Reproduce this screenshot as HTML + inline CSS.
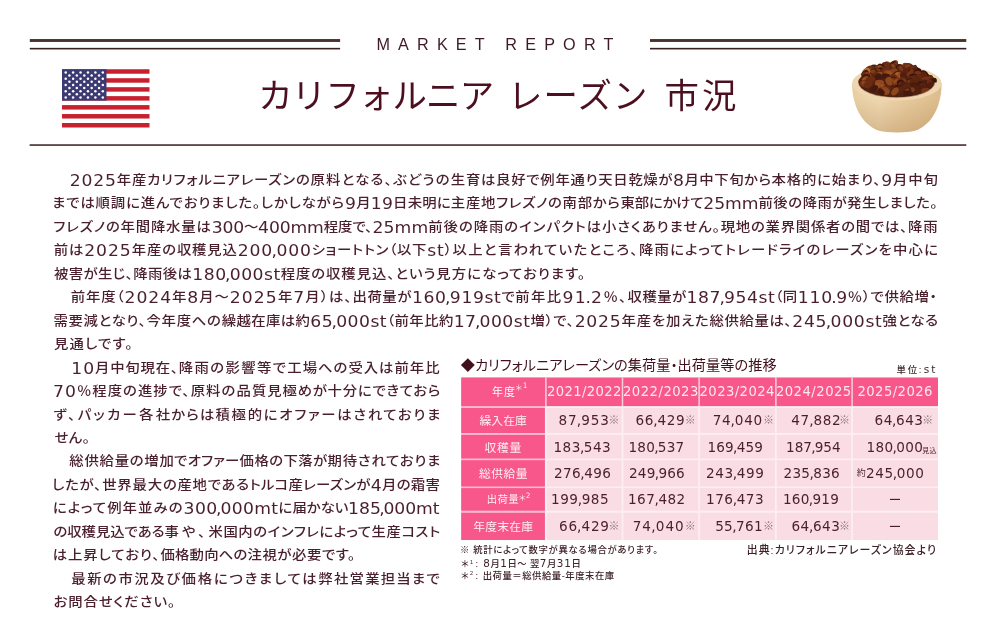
<!DOCTYPE html>
<html lang="ja">
<head>
<meta charset="utf-8">
<title>MARKET REPORT カリフォルニア レーズン 市況</title>
<style>
html,body{margin:0;padding:0;background:#fff}
body{width:1000px;height:631px;position:relative;overflow:hidden;font-family:"Liberation Sans","Noto Sans CJK JP",sans-serif;color:#4a1f2c}
.t{position:absolute;white-space:nowrap;line-height:20px;height:20px;margin:0;letter-spacing:var(--ls)}
.bt{font-weight:500;font-size:14.4px;font-feature-settings:"palt";transform:scaleY(0.9);transform-origin:0 50%}
.bt .n{font-weight:400;font-family:"DejaVu Sans","Liberation Sans","Noto Sans CJK JP",sans-serif;font-size:17.2px;letter-spacing:calc(var(--ls) + 0.1px);line-height:1px;position:relative;top:2.5px}
.bt .c{margin-left:-1.6px;letter-spacing:calc(var(--ls) - 1.2px)}
.mr{font-size:16.2px;color:#3f1a24}
.ti{font-size:34.4px;font-weight:400;color:#4b0f20;line-height:40px;height:40px}
.tt{font-size:14.2px;font-feature-settings:"palt";color:#41101c}
.un{font-size:9.4px;font-weight:500;color:#3d2a2c}
.un .n{font-weight:400;font-family:"DejaVu Sans","Liberation Sans","Noto Sans CJK JP",sans-serif;font-size:10.6px;letter-spacing:calc(var(--ls) + 0.2px);margin-left:0.5px;line-height:1px}
.th{font-size:11.8px;color:rgba(255,255,255,0.9)}
.thc{font-size:11.8px;color:#fff;transform:scaleX(0.93);transform-origin:0 50%}
.ths{font-size:8.6px;color:rgba(255,255,255,0.85)}
.ths2{font-family:"DejaVu Sans","Liberation Sans","Noto Sans CJK JP",sans-serif;font-size:7.4px;color:rgba(255,255,255,0.9)}
.thd{font-size:10.4px;color:rgba(255,255,255,0.92)}
.thn{font-family:"DejaVu Sans","Liberation Sans","Noto Sans CJK JP",sans-serif;font-size:13.2px;color:rgba(255,255,255,0.86)}
.td{font-family:"DejaVu Sans","Liberation Sans","Noto Sans CJK JP",sans-serif;font-size:13.6px;color:#4a1f2c}
.td .c{margin-left:-0.8px;letter-spacing:calc(var(--ls) - 0.8px)}
.dash{font-size:14px;font-weight:500;color:#4a1f2c}
.km{font-size:11px;color:#8b777d}
.mk{font-size:7px;color:#4a1f2c}
.yk{font-size:9px;color:#4a1f2c}
.nt{font-size:9.4px;font-weight:500;font-feature-settings:"palt";color:#3d2228}
.nt .n{font-weight:400;font-family:"DejaVu Sans","Liberation Sans","Noto Sans CJK JP",sans-serif;font-size:10.4px;letter-spacing:calc(var(--ls) + 0.3px);line-height:1px}
.nt .s2{font-size:5.5px;position:relative;top:-3.5px;margin-left:1.2px;margin-right:2.6px}
.sr{font-size:10.9px;font-weight:500;font-feature-settings:"palt";color:#3d2228}
.sg{letter-spacing:var(--ls)}
.abs{position:absolute;display:block}
</style>
</head>
<body>
<svg class="abs" style="left:0;top:30px" width="1000" height="120" viewBox="0 30 1000 120" aria-hidden="true">
<g fill="#4b3129">
<rect x="29.8" y="39.05" width="310.3" height="2.9"/>
<rect x="650" y="39.05" width="316.3" height="2.9"/>
</g>
<g fill="#35201f">
<rect x="29.8" y="47.85" width="310.3" height="1.6"/>
<rect x="650" y="47.85" width="316.3" height="1.6"/>
<rect x="29.6" y="144.3" width="936.7" height="1.5"/>
</g>
</svg>
<svg class="abs" style="left:61.5px;top:69px" width="88" height="59" viewBox="0 0 88 59" role="img" aria-label="US flag">
<rect x="0" y="0.25" width="87.5" height="58.25" fill="#fff"/>
<g fill="#c9202f">
<rect x="0" y="0.25" width="87.5" height="4.48"/>
<rect x="0" y="9.21" width="87.5" height="4.48"/>
<rect x="0" y="18.17" width="87.5" height="4.48"/>
<rect x="0" y="27.13" width="87.5" height="4.48"/>
<rect x="0" y="36.09" width="87.5" height="4.48"/>
<rect x="0" y="45.05" width="87.5" height="4.48"/>
<rect x="0" y="54.02" width="87.5" height="4.48"/>
</g>
<rect x="0" y="0.25" width="44.5" height="31.36" fill="#3b3a73"/>
<g fill="#fff"><circle cx="3.71" cy="3.39" r="1.25"/><circle cx="11.12" cy="3.39" r="1.25"/><circle cx="18.54" cy="3.39" r="1.25"/><circle cx="25.96" cy="3.39" r="1.25"/><circle cx="33.38" cy="3.39" r="1.25"/><circle cx="40.79" cy="3.39" r="1.25"/><circle cx="7.42" cy="6.52" r="1.25"/><circle cx="14.83" cy="6.52" r="1.25"/><circle cx="22.25" cy="6.52" r="1.25"/><circle cx="29.67" cy="6.52" r="1.25"/><circle cx="37.08" cy="6.52" r="1.25"/><circle cx="3.71" cy="9.66" r="1.25"/><circle cx="11.12" cy="9.66" r="1.25"/><circle cx="18.54" cy="9.66" r="1.25"/><circle cx="25.96" cy="9.66" r="1.25"/><circle cx="33.38" cy="9.66" r="1.25"/><circle cx="40.79" cy="9.66" r="1.25"/><circle cx="7.42" cy="12.79" r="1.25"/><circle cx="14.83" cy="12.79" r="1.25"/><circle cx="22.25" cy="12.79" r="1.25"/><circle cx="29.67" cy="12.79" r="1.25"/><circle cx="37.08" cy="12.79" r="1.25"/><circle cx="3.71" cy="15.93" r="1.25"/><circle cx="11.12" cy="15.93" r="1.25"/><circle cx="18.54" cy="15.93" r="1.25"/><circle cx="25.96" cy="15.93" r="1.25"/><circle cx="33.38" cy="15.93" r="1.25"/><circle cx="40.79" cy="15.93" r="1.25"/><circle cx="7.42" cy="19.07" r="1.25"/><circle cx="14.83" cy="19.07" r="1.25"/><circle cx="22.25" cy="19.07" r="1.25"/><circle cx="29.67" cy="19.07" r="1.25"/><circle cx="37.08" cy="19.07" r="1.25"/><circle cx="3.71" cy="22.20" r="1.25"/><circle cx="11.12" cy="22.20" r="1.25"/><circle cx="18.54" cy="22.20" r="1.25"/><circle cx="25.96" cy="22.20" r="1.25"/><circle cx="33.38" cy="22.20" r="1.25"/><circle cx="40.79" cy="22.20" r="1.25"/><circle cx="7.42" cy="25.34" r="1.25"/><circle cx="14.83" cy="25.34" r="1.25"/><circle cx="22.25" cy="25.34" r="1.25"/><circle cx="29.67" cy="25.34" r="1.25"/><circle cx="37.08" cy="25.34" r="1.25"/><circle cx="3.71" cy="28.47" r="1.25"/><circle cx="11.12" cy="28.47" r="1.25"/><circle cx="18.54" cy="28.47" r="1.25"/><circle cx="25.96" cy="28.47" r="1.25"/><circle cx="33.38" cy="28.47" r="1.25"/><circle cx="40.79" cy="28.47" r="1.25"/></g>
</svg>
<svg class="abs" style="left:846px;top:54px" width="104" height="86" viewBox="846 54 104 86" role="img" aria-label="raisins in wooden bowl">
<defs>
<linearGradient id="bw" x1="0" y1="0" x2="1" y2="0">
<stop offset="0" stop-color="#e7cda3"/><stop offset="0.3" stop-color="#efd8b1"/><stop offset="0.65" stop-color="#e7c99b"/><stop offset="1" stop-color="#dcbc8c"/>
</linearGradient>
<linearGradient id="bw2" x1="0" y1="0" x2="0" y2="1">
<stop offset="0.3" stop-color="#9a6a36" stop-opacity="0"/><stop offset="1" stop-color="#9a6a36" stop-opacity="0.28"/>
</linearGradient>
<clipPath id="inner"><path d="M846 54 H950 V82.5 H934.8 A38.3 15.2 0 0 1 858.2 82.5 H846 Z"/></clipPath>
</defs>
<path d="M852.1 83 C851.9 104 861 124.5 879 130.8 C888 133 906 133 915 130.8 C933 124.5 941.8 104 941.6 83 Z" fill="url(#bw)"/>
<path d="M852.1 83 C851.9 104 861 124.5 879 130.8 C888 133 906 133 915 130.8 C933 124.5 941.8 104 941.6 83 Z" fill="url(#bw2)"/>
<ellipse cx="896.85" cy="83.3" rx="44.75" ry="17.2" fill="#eed7b0"/>
<ellipse cx="896.5" cy="82.5" rx="38.3" ry="15.2" fill="#4f2110"/>
<g clip-path="url(#inner)"><ellipse cx="894.0" cy="64.5" rx="5.2" ry="3.2" fill="#9a4f1f" transform="rotate(-51 894.0 64.5)"/><ellipse cx="887.8" cy="64.6" rx="4.0" ry="3.1" fill="#9a4f1f" transform="rotate(18 887.8 64.6)"/><ellipse cx="887.1" cy="63.9" rx="2.2" ry="1.5" fill="#b86a2b" opacity="0.5" transform="rotate(18 887.8 64.6)"/><ellipse cx="893.6" cy="64.6" rx="3.9" ry="3.5" fill="#45190d" transform="rotate(-28 893.6 64.6)"/><ellipse cx="885.5" cy="64.8" rx="3.8" ry="2.8" fill="#763316" transform="rotate(4 885.5 64.8)"/><ellipse cx="893.9" cy="65.2" rx="4.7" ry="2.9" fill="#3a140b" transform="rotate(-3 893.9 65.2)"/><ellipse cx="893.8" cy="65.7" rx="4.5" ry="2.7" fill="#7f3a18" transform="rotate(-33 893.8 65.7)"/><ellipse cx="886.3" cy="66.1" rx="4.4" ry="3.4" fill="#4f1e0f" transform="rotate(31 886.3 66.1)"/><ellipse cx="885.6" cy="65.4" rx="2.4" ry="1.7" fill="#b86a2b" opacity="0.5" transform="rotate(31 886.3 66.1)"/><ellipse cx="905.8" cy="66.2" rx="3.8" ry="3.2" fill="#7f3a18" transform="rotate(15 905.8 66.2)"/><ellipse cx="888.2" cy="66.4" rx="4.6" ry="3.3" fill="#6a2b13" transform="rotate(38 888.2 66.4)"/><ellipse cx="893.3" cy="66.8" rx="3.9" ry="3.5" fill="#5a2411" transform="rotate(38 893.3 66.8)"/><ellipse cx="892.6" cy="66.1" rx="2.2" ry="1.7" fill="#b86a2b" opacity="0.5" transform="rotate(38 893.3 66.8)"/><ellipse cx="908.4" cy="66.9" rx="5.2" ry="3.8" fill="#6a2b13" transform="rotate(4 908.4 66.9)"/><ellipse cx="907.7" cy="66.2" rx="2.8" ry="1.9" fill="#9a4f1f" opacity="0.5" transform="rotate(4 908.4 66.9)"/><ellipse cx="898.8" cy="67.1" rx="4.2" ry="2.8" fill="#5a2411" transform="rotate(-7 898.8 67.1)"/><ellipse cx="880.1" cy="67.2" rx="3.6" ry="3.6" fill="#3a140b" transform="rotate(-52 880.1 67.2)"/><ellipse cx="899.4" cy="67.7" rx="4.7" ry="3.7" fill="#763316" transform="rotate(-4 899.4 67.7)"/><ellipse cx="874.1" cy="68.2" rx="4.7" ry="3.7" fill="#4f1e0f" transform="rotate(-1 874.1 68.2)"/><ellipse cx="899.8" cy="68.2" rx="4.3" ry="3.3" fill="#3a140b" transform="rotate(40 899.8 68.2)"/><ellipse cx="878.3" cy="68.7" rx="4.9" ry="3.3" fill="#8e461c" transform="rotate(-23 878.3 68.7)"/><ellipse cx="877.6" cy="68.0" rx="2.7" ry="1.7" fill="#a4561f" opacity="0.5" transform="rotate(-23 878.3 68.7)"/><ellipse cx="913.9" cy="69.0" rx="5.1" ry="3.3" fill="#5a2411" transform="rotate(9 913.9 69.0)"/><ellipse cx="913.2" cy="68.3" rx="2.8" ry="1.6" fill="#9a4f1f" opacity="0.5" transform="rotate(9 913.9 69.0)"/><ellipse cx="880.4" cy="69.0" rx="4.6" ry="2.7" fill="#7f3a18" transform="rotate(56 880.4 69.0)"/><ellipse cx="912.9" cy="69.2" rx="5.2" ry="2.8" fill="#5a2411" transform="rotate(-49 912.9 69.2)"/><ellipse cx="870.1" cy="69.2" rx="5.1" ry="3.6" fill="#6a2b13" transform="rotate(-12 870.1 69.2)"/><ellipse cx="869.4" cy="68.5" rx="2.8" ry="1.8" fill="#b86a2b" opacity="0.5" transform="rotate(-12 870.1 69.2)"/><ellipse cx="900.9" cy="69.4" rx="5.0" ry="3.7" fill="#5a2411" transform="rotate(50 900.9 69.4)"/><ellipse cx="900.2" cy="68.7" rx="2.8" ry="1.9" fill="#9a4f1f" opacity="0.5" transform="rotate(50 900.9 69.4)"/><ellipse cx="881.9" cy="69.8" rx="5.1" ry="2.8" fill="#a4561f" transform="rotate(34 881.9 69.8)"/><ellipse cx="881.2" cy="69.1" rx="2.8" ry="1.4" fill="#9a4f1f" opacity="0.5" transform="rotate(34 881.9 69.8)"/><ellipse cx="909.3" cy="70.0" rx="4.7" ry="3.1" fill="#5a2411" transform="rotate(-17 909.3 70.0)"/><ellipse cx="914.2" cy="70.2" rx="4.5" ry="3.6" fill="#763316" transform="rotate(15 914.2 70.2)"/><ellipse cx="880.2" cy="70.5" rx="4.3" ry="3.1" fill="#3a140b" transform="rotate(-10 880.2 70.5)"/><ellipse cx="914.5" cy="70.8" rx="5.0" ry="3.3" fill="#5a2411" transform="rotate(-34 914.5 70.8)"/><ellipse cx="878.6" cy="71.0" rx="5.0" ry="3.0" fill="#3a140b" transform="rotate(29 878.6 71.0)"/><ellipse cx="877.9" cy="70.3" rx="2.7" ry="1.5" fill="#ae6026" opacity="0.5" transform="rotate(29 878.6 71.0)"/><ellipse cx="871.7" cy="71.1" rx="5.0" ry="2.9" fill="#5a2411" transform="rotate(33 871.7 71.1)"/><ellipse cx="871.0" cy="70.4" rx="2.8" ry="1.5" fill="#a4561f" opacity="0.5" transform="rotate(33 871.7 71.1)"/><ellipse cx="893.8" cy="71.3" rx="3.8" ry="2.8" fill="#87401a" transform="rotate(-13 893.8 71.3)"/><ellipse cx="912.9" cy="71.8" rx="4.7" ry="2.9" fill="#45190d" transform="rotate(15 912.9 71.8)"/><ellipse cx="912.2" cy="71.1" rx="2.6" ry="1.5" fill="#ae6026" opacity="0.5" transform="rotate(15 912.9 71.8)"/><ellipse cx="884.5" cy="71.8" rx="5.1" ry="3.8" fill="#6a2b13" transform="rotate(-46 884.5 71.8)"/><ellipse cx="917.3" cy="72.2" rx="4.7" ry="2.9" fill="#3a140b" transform="rotate(-52 917.3 72.2)"/><ellipse cx="873.7" cy="72.3" rx="4.6" ry="3.7" fill="#5a2411" transform="rotate(-2 873.7 72.3)"/><ellipse cx="873.0" cy="71.6" rx="2.5" ry="1.8" fill="#a4561f" opacity="0.5" transform="rotate(-2 873.7 72.3)"/><ellipse cx="866.1" cy="72.3" rx="5.2" ry="3.7" fill="#b86a2b" transform="rotate(-49 866.1 72.3)"/><ellipse cx="865.4" cy="71.6" rx="2.9" ry="1.9" fill="#9a4f1f" opacity="0.5" transform="rotate(-49 866.1 72.3)"/><ellipse cx="887.6" cy="73.2" rx="4.1" ry="3.2" fill="#8e461c" transform="rotate(2 887.6 73.2)"/><ellipse cx="910.7" cy="73.4" rx="4.6" ry="2.7" fill="#763316" transform="rotate(-36 910.7 73.4)"/><ellipse cx="865.0" cy="73.6" rx="4.2" ry="2.9" fill="#3a140b" transform="rotate(-40 865.0 73.6)"/><ellipse cx="864.3" cy="72.9" rx="2.3" ry="1.5" fill="#9a4f1f" opacity="0.5" transform="rotate(-40 865.0 73.6)"/><ellipse cx="917.6" cy="73.8" rx="4.9" ry="3.5" fill="#45190d" transform="rotate(43 917.6 73.8)"/><ellipse cx="921.0" cy="74.2" rx="3.9" ry="3.3" fill="#632a13" transform="rotate(-19 921.0 74.2)"/><ellipse cx="924.1" cy="74.3" rx="4.8" ry="3.6" fill="#3a140b" transform="rotate(38 924.1 74.3)"/><ellipse cx="918.5" cy="74.8" rx="4.7" ry="3.5" fill="#763316" transform="rotate(32 918.5 74.8)"/><ellipse cx="887.9" cy="75.1" rx="4.9" ry="3.0" fill="#9a4f1f" transform="rotate(-48 887.9 75.1)"/><ellipse cx="924.1" cy="75.1" rx="3.7" ry="3.0" fill="#5a2411" transform="rotate(55 924.1 75.1)"/><ellipse cx="879.0" cy="75.5" rx="4.5" ry="3.3" fill="#9a4f1f" transform="rotate(-13 879.0 75.5)"/><ellipse cx="878.3" cy="74.8" rx="2.5" ry="1.6" fill="#9a4f1f" opacity="0.5" transform="rotate(-13 879.0 75.5)"/><ellipse cx="896.3" cy="75.6" rx="4.8" ry="3.8" fill="#4f1e0f" transform="rotate(-57 896.3 75.6)"/><ellipse cx="895.6" cy="74.9" rx="2.7" ry="1.9" fill="#b86a2b" opacity="0.5" transform="rotate(-57 896.3 75.6)"/><ellipse cx="898.9" cy="75.8" rx="4.4" ry="3.5" fill="#ae6026" transform="rotate(18 898.9 75.8)"/><ellipse cx="898.2" cy="75.1" rx="2.4" ry="1.8" fill="#ae6026" opacity="0.5" transform="rotate(18 898.9 75.8)"/><ellipse cx="867.4" cy="75.8" rx="4.5" ry="3.3" fill="#5a2411" transform="rotate(56 867.4 75.8)"/><ellipse cx="886.0" cy="76.3" rx="4.9" ry="2.8" fill="#45190d" transform="rotate(12 886.0 76.3)"/><ellipse cx="868.5" cy="76.3" rx="5.1" ry="3.1" fill="#7f3a18" transform="rotate(56 868.5 76.3)"/><ellipse cx="900.7" cy="76.7" rx="3.7" ry="3.7" fill="#8e461c" transform="rotate(-10 900.7 76.7)"/><ellipse cx="900.0" cy="76.0" rx="2.0" ry="1.9" fill="#ae6026" opacity="0.5" transform="rotate(-10 900.7 76.7)"/><ellipse cx="877.8" cy="76.9" rx="4.4" ry="3.0" fill="#632a13" transform="rotate(52 877.8 76.9)"/><ellipse cx="877.1" cy="76.2" rx="2.4" ry="1.5" fill="#a4561f" opacity="0.5" transform="rotate(52 877.8 76.9)"/><ellipse cx="913.1" cy="77.1" rx="4.5" ry="3.4" fill="#3a140b" transform="rotate(-11 913.1 77.1)"/><ellipse cx="903.6" cy="77.1" rx="4.8" ry="2.8" fill="#4f1e0f" transform="rotate(59 903.6 77.1)"/><ellipse cx="878.2" cy="77.2" rx="4.0" ry="3.5" fill="#45190d" transform="rotate(-30 878.2 77.2)"/><ellipse cx="921.0" cy="77.3" rx="5.1" ry="3.5" fill="#5a2411" transform="rotate(-4 921.0 77.3)"/><ellipse cx="866.7" cy="77.4" rx="3.8" ry="3.4" fill="#45190d" transform="rotate(-5 866.7 77.4)"/><ellipse cx="894.1" cy="78.0" rx="3.8" ry="3.1" fill="#8e461c" transform="rotate(-43 894.1 78.0)"/><ellipse cx="893.4" cy="77.3" rx="2.1" ry="1.5" fill="#b86a2b" opacity="0.5" transform="rotate(-43 894.1 78.0)"/><ellipse cx="893.6" cy="78.0" rx="4.2" ry="3.5" fill="#632a13" transform="rotate(38 893.6 78.0)"/><ellipse cx="919.2" cy="78.0" rx="4.0" ry="2.8" fill="#632a13" transform="rotate(47 919.2 78.0)"/><ellipse cx="915.2" cy="78.5" rx="4.0" ry="3.4" fill="#5a2411" transform="rotate(27 915.2 78.5)"/><ellipse cx="928.8" cy="78.8" rx="4.8" ry="2.9" fill="#5a2411" transform="rotate(-30 928.8 78.8)"/><ellipse cx="865.4" cy="79.2" rx="3.7" ry="2.8" fill="#8e461c" transform="rotate(-27 865.4 79.2)"/><ellipse cx="864.7" cy="78.5" rx="2.0" ry="1.4" fill="#a4561f" opacity="0.5" transform="rotate(-27 865.4 79.2)"/><ellipse cx="927.4" cy="79.5" rx="4.5" ry="2.8" fill="#5a2411" transform="rotate(-50 927.4 79.5)"/><ellipse cx="870.3" cy="79.8" rx="5.2" ry="3.2" fill="#6a2b13" transform="rotate(-18 870.3 79.8)"/><ellipse cx="928.6" cy="79.9" rx="4.9" ry="2.8" fill="#632a13" transform="rotate(-46 928.6 79.9)"/><ellipse cx="912.2" cy="80.0" rx="4.8" ry="3.2" fill="#632a13" transform="rotate(30 912.2 80.0)"/><ellipse cx="925.8" cy="80.4" rx="4.6" ry="3.8" fill="#763316" transform="rotate(-21 925.8 80.4)"/><ellipse cx="902.3" cy="80.6" rx="3.9" ry="3.4" fill="#6a2b13" transform="rotate(10 902.3 80.6)"/><ellipse cx="901.6" cy="79.9" rx="2.1" ry="1.7" fill="#9a4f1f" opacity="0.5" transform="rotate(10 902.3 80.6)"/><ellipse cx="893.9" cy="80.6" rx="4.3" ry="3.3" fill="#3a140b" transform="rotate(38 893.9 80.6)"/><ellipse cx="893.2" cy="79.9" rx="2.4" ry="1.7" fill="#a4561f" opacity="0.5" transform="rotate(38 893.9 80.6)"/><ellipse cx="932.0" cy="80.7" rx="5.1" ry="3.4" fill="#763316" transform="rotate(23 932.0 80.7)"/><ellipse cx="900.8" cy="81.0" rx="5.0" ry="2.9" fill="#5a2411" transform="rotate(19 900.8 81.0)"/><ellipse cx="900.1" cy="80.3" rx="2.8" ry="1.5" fill="#b86a2b" opacity="0.5" transform="rotate(19 900.8 81.0)"/><ellipse cx="889.4" cy="81.2" rx="4.5" ry="3.7" fill="#8e461c" transform="rotate(53 889.4 81.2)"/><ellipse cx="896.5" cy="81.4" rx="5.2" ry="3.2" fill="#763316" transform="rotate(-33 896.5 81.4)"/><ellipse cx="895.8" cy="80.7" rx="2.9" ry="1.6" fill="#ae6026" opacity="0.5" transform="rotate(-33 896.5 81.4)"/><ellipse cx="920.8" cy="81.7" rx="4.9" ry="2.7" fill="#5a2411" transform="rotate(21 920.8 81.7)"/><ellipse cx="909.8" cy="81.7" rx="4.2" ry="3.1" fill="#3a140b" transform="rotate(-41 909.8 81.7)"/><ellipse cx="909.1" cy="81.0" rx="2.3" ry="1.6" fill="#b86a2b" opacity="0.5" transform="rotate(-41 909.8 81.7)"/><ellipse cx="930.6" cy="81.7" rx="5.0" ry="3.0" fill="#5a2411" transform="rotate(-57 930.6 81.7)"/><ellipse cx="913.1" cy="82.0" rx="4.1" ry="2.7" fill="#632a13" transform="rotate(41 913.1 82.0)"/><ellipse cx="932.8" cy="82.1" rx="4.9" ry="2.8" fill="#3a140b" transform="rotate(-50 932.8 82.1)"/><ellipse cx="914.4" cy="82.3" rx="4.6" ry="2.9" fill="#5a2411" transform="rotate(29 914.4 82.3)"/><ellipse cx="903.0" cy="82.6" rx="4.4" ry="3.7" fill="#763316" transform="rotate(-19 903.0 82.6)"/><ellipse cx="902.3" cy="81.9" rx="2.4" ry="1.8" fill="#ae6026" opacity="0.5" transform="rotate(-19 903.0 82.6)"/><ellipse cx="879.4" cy="82.9" rx="4.7" ry="3.2" fill="#8e461c" transform="rotate(4 879.4 82.9)"/><ellipse cx="900.6" cy="82.9" rx="4.3" ry="3.6" fill="#7f3a18" transform="rotate(20 900.6 82.9)"/><ellipse cx="925.3" cy="83.2" rx="5.0" ry="3.8" fill="#763316" transform="rotate(17 925.3 83.2)"/><ellipse cx="900.8" cy="83.2" rx="3.8" ry="3.7" fill="#3a140b" transform="rotate(50 900.8 83.2)"/><ellipse cx="865.3" cy="83.3" rx="4.2" ry="2.9" fill="#632a13" transform="rotate(-35 865.3 83.3)"/><ellipse cx="864.6" cy="82.6" rx="2.3" ry="1.4" fill="#9a4f1f" opacity="0.5" transform="rotate(-35 865.3 83.3)"/><ellipse cx="924.2" cy="83.3" rx="4.4" ry="3.5" fill="#4f1e0f" transform="rotate(-24 924.2 83.3)"/><ellipse cx="865.2" cy="83.3" rx="4.8" ry="2.7" fill="#6a2b13" transform="rotate(-2 865.2 83.3)"/><ellipse cx="864.5" cy="82.6" rx="2.6" ry="1.4" fill="#a4561f" opacity="0.5" transform="rotate(-2 865.2 83.3)"/><ellipse cx="864.2" cy="83.7" rx="4.2" ry="3.3" fill="#763316" transform="rotate(12 864.2 83.7)"/><ellipse cx="863.5" cy="83.0" rx="2.3" ry="1.7" fill="#a4561f" opacity="0.5" transform="rotate(12 864.2 83.7)"/><ellipse cx="931.0" cy="83.9" rx="5.0" ry="3.1" fill="#6a2b13" transform="rotate(49 931.0 83.9)"/><ellipse cx="868.2" cy="84.4" rx="4.9" ry="3.2" fill="#6a2b13" transform="rotate(-29 868.2 84.4)"/><ellipse cx="914.0" cy="84.6" rx="4.8" ry="2.8" fill="#5a2411" transform="rotate(44 914.0 84.6)"/><ellipse cx="906.3" cy="84.9" rx="4.9" ry="3.1" fill="#5a2411" transform="rotate(3 906.3 84.9)"/><ellipse cx="920.4" cy="85.0" rx="3.7" ry="3.7" fill="#3a140b" transform="rotate(47 920.4 85.0)"/><ellipse cx="902.0" cy="85.4" rx="4.0" ry="3.2" fill="#6a2b13" transform="rotate(45 902.0 85.4)"/><ellipse cx="901.3" cy="84.7" rx="2.2" ry="1.6" fill="#a4561f" opacity="0.5" transform="rotate(45 902.0 85.4)"/><ellipse cx="931.2" cy="85.7" rx="4.6" ry="3.8" fill="#4f1e0f" transform="rotate(-28 931.2 85.7)"/><ellipse cx="901.7" cy="85.8" rx="3.9" ry="2.9" fill="#632a13" transform="rotate(50 901.7 85.8)"/><ellipse cx="901.0" cy="85.1" rx="2.1" ry="1.5" fill="#ae6026" opacity="0.5" transform="rotate(50 901.7 85.8)"/><ellipse cx="904.0" cy="86.0" rx="4.6" ry="3.3" fill="#4f1e0f" transform="rotate(47 904.0 86.0)"/><ellipse cx="922.4" cy="86.1" rx="4.5" ry="3.6" fill="#45190d" transform="rotate(-24 922.4 86.1)"/><ellipse cx="919.9" cy="86.2" rx="4.7" ry="3.6" fill="#45190d" transform="rotate(-7 919.9 86.2)"/><ellipse cx="913.3" cy="86.3" rx="3.9" ry="3.6" fill="#45190d" transform="rotate(-23 913.3 86.3)"/><ellipse cx="922.0" cy="86.6" rx="5.2" ry="3.4" fill="#4f1e0f" transform="rotate(-52 922.0 86.6)"/><ellipse cx="878.4" cy="86.7" rx="4.2" ry="3.2" fill="#9a4f1f" transform="rotate(56 878.4 86.7)"/><ellipse cx="906.8" cy="87.3" rx="5.0" ry="3.5" fill="#5a2411" transform="rotate(-3 906.8 87.3)"/><ellipse cx="882.6" cy="87.4" rx="3.6" ry="3.8" fill="#8e461c" transform="rotate(36 882.6 87.4)"/><ellipse cx="881.9" cy="86.7" rx="2.0" ry="1.9" fill="#b86a2b" opacity="0.5" transform="rotate(36 882.6 87.4)"/><ellipse cx="923.7" cy="88.2" rx="5.1" ry="3.5" fill="#5a2411" transform="rotate(54 923.7 88.2)"/><ellipse cx="886.9" cy="88.4" rx="4.0" ry="2.9" fill="#632a13" transform="rotate(28 886.9 88.4)"/><ellipse cx="916.3" cy="88.4" rx="4.8" ry="3.1" fill="#4f1e0f" transform="rotate(39 916.3 88.4)"/><ellipse cx="897.6" cy="88.5" rx="3.8" ry="3.4" fill="#3a140b" transform="rotate(-38 897.6 88.5)"/><ellipse cx="874.1" cy="88.6" rx="4.5" ry="2.8" fill="#45190d" transform="rotate(-33 874.1 88.6)"/><ellipse cx="924.1" cy="89.3" rx="4.8" ry="3.1" fill="#4f1e0f" transform="rotate(39 924.1 89.3)"/><ellipse cx="883.0" cy="90.0" rx="4.8" ry="3.6" fill="#763316" transform="rotate(-14 883.0 90.0)"/><ellipse cx="898.6" cy="90.0" rx="4.8" ry="3.4" fill="#5a2411" transform="rotate(-22 898.6 90.0)"/><ellipse cx="910.4" cy="90.3" rx="4.6" ry="2.7" fill="#7f3a18" transform="rotate(-20 910.4 90.3)"/><ellipse cx="909.7" cy="89.6" rx="2.5" ry="1.4" fill="#b86a2b" opacity="0.5" transform="rotate(-20 910.4 90.3)"/><ellipse cx="907.8" cy="90.6" rx="3.9" ry="3.1" fill="#4f1e0f" transform="rotate(-25 907.8 90.6)"/><ellipse cx="907.1" cy="89.9" rx="2.2" ry="1.5" fill="#ae6026" opacity="0.5" transform="rotate(-25 907.8 90.6)"/><ellipse cx="925.7" cy="90.9" rx="4.5" ry="3.1" fill="#763316" transform="rotate(0 925.7 90.9)"/><ellipse cx="884.9" cy="90.9" rx="5.1" ry="3.8" fill="#8e461c" transform="rotate(25 884.9 90.9)"/><ellipse cx="894.9" cy="91.4" rx="4.6" ry="2.9" fill="#8e461c" transform="rotate(-50 894.9 91.4)"/><ellipse cx="881.1" cy="91.8" rx="4.1" ry="2.8" fill="#45190d" transform="rotate(45 881.1 91.8)"/><ellipse cx="908.1" cy="93.6" rx="4.8" ry="3.0" fill="#45190d" transform="rotate(8 908.1 93.6)"/></g>
<path d="M858.2 82.5 A38.3 15.2 0 0 0 934.8 82.5" fill="none" stroke="#d9bd92" stroke-width="0.8" opacity="0.8"/>
</svg>
<svg class="abs" style="left:455px;top:372px" width="490" height="172" viewBox="455 372 490 172" aria-hidden="true">
<rect x="461.2" y="377.5" width="83.7" height="162.5" fill="#fbbccd"/>
<rect x="544.9" y="377.5" width="393.1" height="162.5" fill="#fdeef2"/>
<g fill="#f7578a">
<rect x="461.2" y="377.5" width="476.8" height="28.6"/>
<rect x="461.2" y="408" width="83.7" height="25"/>
<rect x="461.2" y="434.9" width="83.7" height="23.6"/>
<rect x="461.2" y="460.2" width="83.7" height="26.3"/>
<rect x="461.2" y="488.1" width="83.7" height="22.6"/>
<rect x="461.2" y="512.8" width="83.7" height="27.2"/>
</g>
<g fill="#fadce4">
<rect x="546.9" y="408" width="74.7" height="25"/>
<rect x="623.4" y="408" width="74.8" height="25"/>
<rect x="700" y="408" width="75.0" height="25"/>
<rect x="776.8" y="408" width="74.4" height="25"/>
<rect x="853" y="408" width="85.0" height="25"/>
<rect x="546.9" y="434.9" width="74.7" height="23.6"/>
<rect x="623.4" y="434.9" width="74.8" height="23.6"/>
<rect x="700" y="434.9" width="75.0" height="23.6"/>
<rect x="776.8" y="434.9" width="74.4" height="23.6"/>
<rect x="853" y="434.9" width="85.0" height="23.6"/>
<rect x="546.9" y="460.2" width="74.7" height="26.3"/>
<rect x="623.4" y="460.2" width="74.8" height="26.3"/>
<rect x="700" y="460.2" width="75.0" height="26.3"/>
<rect x="776.8" y="460.2" width="74.4" height="26.3"/>
<rect x="853" y="460.2" width="85.0" height="26.3"/>
<rect x="546.9" y="488.1" width="74.7" height="22.6"/>
<rect x="623.4" y="488.1" width="74.8" height="22.6"/>
<rect x="700" y="488.1" width="75.0" height="22.6"/>
<rect x="776.8" y="488.1" width="74.4" height="22.6"/>
<rect x="853" y="488.1" width="85.0" height="22.6"/>
<rect x="546.9" y="512.8" width="74.7" height="27.2"/>
<rect x="623.4" y="512.8" width="74.8" height="27.2"/>
<rect x="700" y="512.8" width="75.0" height="27.2"/>
<rect x="776.8" y="512.8" width="74.4" height="27.2"/>
<rect x="853" y="512.8" width="85.0" height="27.2"/>
</g>
<g fill="#fcd0dc">
<rect x="545.15" y="377.5" width="1.5" height="28.6"/>
<rect x="621.75" y="377.5" width="1.5" height="28.6"/>
<rect x="698.35" y="377.5" width="1.5" height="28.6"/>
<rect x="775.15" y="377.5" width="1.5" height="28.6"/>
<rect x="851.35" y="377.5" width="1.5" height="28.6"/>
</g>
</svg>

<div class="t mr" id="mr" style="left:376.40px;top:33.70px;--ls:8.179px">MARKET REPORT</div>
<div class="t ti" id="ti1" style="left:258.30px;top:76.00px;--ls:-0.833px">カリフォルニア</div>
<div class="t ti" id="ti2" style="left:508.05px;top:76.00px;--ls:1.150px">レーズン</div>
<div class="t ti" id="ti3" style="left:664.60px;top:76.00px;--ls:3.000px">市況</div>
<div class="t bt" id="b0" style="left:69.65px;top:169.00px"><span class="sg" style="--ls:0.739px"><span class="n">2025</span>年産カリフォルニアレーズンの</span><span class="sg" style="--ls:1.220px"><span class="a">原</span>料となる、ぶどうの</span><span class="sg" style="--ls:0.700px"><span class="a">生</span>育は良好で例年通り天日</span><span class="sg" style="--ls:0.525px"><span class="a">乾</span>燥が<span class="n">8</span>月中下旬から</span><span class="sg" style="--ls:0.800px"><span class="a">本</span>格的に始まり、<span class="n">9</span>月中旬</span></div>
<div class="t bt" id="b1" style="left:52.15px;top:192.00px"><span class="sg" style="--ls:0.843px">までは順調に進んでおりました。しかしながら</span><span class="sg" style="--ls:0.169px"><span class="n"><span class="a">9</span></span>月<span class="n">19</span>日未明に</span><span class="sg" style="--ls:0.679px"><span class="a">主</span>産地フレズノの南部から</span><span class="sg" style="--ls:-0.175px"><span class="a">東</span>部にかけて<span class="n">25mm</span></span><span class="sg" style="--ls:0.525px"><span class="a">前</span>後の降雨が発生しました。</span></div>
<div class="t bt" id="b2" style="left:53.40px;top:216.00px"><span class="sg" style="--ls:0.791px">フレズノの年間降水量は</span><span class="sg" style="--ls:-0.256px"><span class="n"><span class="a">3</span></span><span class="n">00</span>～<span class="n">400mm</span></span><span class="sg" style="--ls:0.019px"><span class="a">程</span>度で、<span class="n">25mm</span></span><span class="sg" style="--ls:0.919px"><span class="a">前</span>後の降雨のインパクトは小さくありません。</span><span class="sg" style="--ls:0.746px"><span class="a">現</span>地の業界関係者の間では、降雨</span></div>
<div class="t bt" id="b3" style="left:53.65px;top:239.00px"><span class="sg" style="--ls:0.850px">前は<span class="n">2025</span>年産の収穫見込</span><span class="sg" style="--ls:0.708px"><span class="n"><span class="a">2</span></span><span class="n">00<span class="c">,</span>000</span>ショートトン（以下<span class="n">st</span>）</span><span class="sg" style="--ls:1.338px"><span class="a">以</span>上と言われていたところ、</span><span class="sg" style="--ls:1.188px"><span class="a">降</span>雨によってトレードライのレーズンを中心に</span></div>
<div class="t bt" id="b4" style="left:53.90px;top:263.00px"><span class="sg" style="--ls:0.387px">被害が生じ、降雨後は<span class="n">180<span class="c">,</span>000st</span></span><span class="sg" style="--ls:0.914px"><span class="a">程</span>度の収穫見込、という</span><span class="sg" style="--ls:1.050px"><span class="a">見</span>方になっております。</span></div>
<div class="t bt" id="b5" style="left:70.70px;top:286.00px"><span class="sg" style="--ls:0.858px">前年度（<span class="n">2024</span>年<span class="n">8</span>月～</span><span class="sg" style="--ls:1.000px"><span class="n"><span class="a">2</span></span><span class="n">025</span>年<span class="n">7</span>月）は、</span><span class="sg" style="--ls:0.532px"><span class="a">出</span>荷量が<span class="n">160<span class="c">,</span>919st</span>で</span><span class="sg" style="--ls:1.300px"><span class="a">前</span>年比<span class="n">91<span class="c">.</span>2</span>％、</span><span class="sg" style="--ls:0.425px"><span class="a">収</span>穫量が<span class="n">187<span class="c">,</span>954st</span>（</span><span class="sg" style="--ls:0.621px"><span class="a">同</span><span class="n">110<span class="c">.</span>9</span>％）で供給増・</span></div>
<div class="t bt" id="b6" style="left:53.40px;top:310.00px"><span class="sg" style="--ls:0.708px">需要減となり、今年度への</span><span class="sg" style="--ls:0.374px"><span class="a">繰</span>越在庫は約<span class="n">65<span class="c">,</span>000st</span>（前年比約<span class="n">17<span class="c">,</span>000st</span></span><span class="sg" style="--ls:0.675px"><span class="a">増</span>）で、<span class="n">2025</span></span><span class="sg" style="--ls:0.800px"><span class="a">年</span>産を加えた</span><span class="sg" style="--ls:0.606px"><span class="a">総</span>供給量は、<span class="n">245<span class="c">,</span>000st</span>強となる</span></div>
<div class="t bt" id="b7" style="left:54.05px;top:333.00px"><span class="sg" style="--ls:1.160px">見通しです。</span></div>
<div class="t bt" id="b8" style="left:71.35px;top:357.00px"><span class="sg" style="--ls:0.781px"><span class="n">10</span>月中旬現在、</span><span class="sg" style="--ls:1.336px"><span class="a">降</span>雨の影響等で</span><span class="sg" style="--ls:0.956px"><span class="a">工</span>場への受入は前年比</span></div>
<div class="t bt" id="b9" style="left:52.90px;top:380.00px"><span class="sg" style="--ls:0.990px"><span class="n">70</span>％程度の進捗で、</span><span class="sg" style="--ls:1.050px"><span class="a">原</span>料の品質</span><span class="sg" style="--ls:0.745px"><span class="a">見</span>極めが十分にできておら</span></div>
<div class="t bt" id="b10" style="left:53.65px;top:404.00px"><span class="sg" style="--ls:2.250px">ず、パッカー各</span><span class="sg" style="--ls:1.175px"><span class="a">社</span>からは</span><span class="sg" style="--ls:1.686px"><span class="a">積</span>極的にオファーはされておりま</span></div>
<div class="t bt" id="b11" style="left:54.50px;top:427.00px"><span class="sg" style="--ls:0.350px">せん。</span></div>
<div class="t bt" id="b12" style="left:69.30px;top:450.00px"><span class="sg" style="--ls:0.725px">総供給量の増</span><span class="sg" style="--ls:0.217px"><span class="a">加</span>でオファー</span><span class="sg" style="--ls:0.383px"><span class="a">価</span>格の下落が</span><span class="sg" style="--ls:0.786px"><span class="a">期</span>待されておりま</span></div>
<div class="t bt" id="b13" style="left:52.15px;top:474.00px"><span class="sg" style="--ls:0.789px">したが、世界最大の</span><span class="sg" style="--ls:0.650px"><span class="a">産</span>地である</span><span class="sg" style="--ls:0.273px"><span class="a">ト</span>ルコ産レーズンが<span class="n">4</span>月の霜害</span></div>
<div class="t bt" id="b14" style="left:52.90px;top:497.00px"><span class="sg" style="--ls:1.067px">によって例年並みの</span><span class="sg" style="--ls:0.250px"><span class="n"><span class="a">3</span></span><span class="n">00<span class="c">,</span>000mt</span>に</span><span class="sg" style="--ls:-0.125px"><span class="a">届</span>かない<span class="n">185<span class="c">,</span>000mt</span></span></div>
<div class="t bt" id="b15" style="left:53.40px;top:521.00px"><span class="sg" style="--ls:-0.056px">の収穫見込である</span><span class="sg" style="--ls:3.133px"><span class="a">事</span>や、</span><span class="sg" style="--ls:0.528px"><span class="a">米</span>国内のインフレによって生産コスト</span></div>
<div class="t bt" id="b16" style="left:52.65px;top:544.00px"><span class="sg" style="--ls:0.975px">は上昇しており、</span><span class="sg" style="--ls:0.133px"><span class="a">価</span>格動向への</span><span class="sg" style="--ls:0.571px"><span class="a">注</span>視が必要です。</span></div>
<div class="t bt" id="b17" style="left:71.25px;top:568.00px"><span class="sg" style="--ls:1.514px">最新の市況及び</span><span class="sg" style="--ls:1.744px"><span class="a">価</span>格につきましては</span><span class="sg" style="--ls:1.214px"><span class="a">弊</span>社営業担当まで</span></div>
<div class="t bt" id="b18" style="left:53.65px;top:591.00px"><span class="sg" style="--ls:0.869px">お問合せください。</span></div>
<div class="t tt" id="tt" style="left:460.75px;top:355.20px;--ls:0.033px">◆カリフォルニアレーズンの集荷量・出荷量等の推移</div>
<div class="t un" id="un" style="left:896.50px;top:359.60px;--ls:1.788px">単位:<span class="n">st</span></div>
<div class="t thc" id="h0" style="left:491.90px;top:381.80px;--ls:1.050px">年度</div>
<div class="t ths" id="h0a" style="left:514.50px;top:377.80px;--ls:0.000px">＊</div>
<div class="t ths2" id="h0b" style="left:522.85px;top:375.60px;--ls:0.000px">1</div>
<div class="t thn" id="hy0" style="left:547.00px;top:382.20px;--ls:0.344px">2021/2022</div>
<div class="t thn" id="hy1" style="left:623.00px;top:382.20px;--ls:0.475px">2022/2023</div>
<div class="t thn" id="hy2" style="left:699.55px;top:382.20px;--ls:0.406px">2023/2024</div>
<div class="t thn" id="hy3" style="left:775.90px;top:382.20px;--ls:0.475px">2024/2025</div>
<div class="t thn" id="hy4" style="left:857.45px;top:382.20px;--ls:0.425px">2025/2026</div>
<div class="t th" id="rl0" style="left:479.50px;top:411.30px;--ls:0.050px">繰入在庫</div>
<div class="t th" id="rl1" style="left:484.50px;top:438.00px;--ls:0.750px">収穫量</div>
<div class="t th" id="rl2" style="left:479.00px;top:464.30px;--ls:0.417px">総供給量</div>
<div class="t thd" id="rl3" style="left:486.65px;top:489.80px;--ls:0.475px">出荷量</div>
<div class="t th" id="rl4" style="left:473.15px;top:517.30px;--ls:0.225px">年度末在庫</div>
<div class="t ths" id="rl3a" style="left:517.95px;top:488.30px;--ls:0.000px">＊</div>
<div class="t ths2" id="rl3b" style="left:525.65px;top:485.60px;--ls:0.000px">2</div>
<div class="t td" id="d00" style="left:558.50px;top:410.30px;--ls:0.900px">87<span class="c">,</span>953</div>
<div class="t km" id="k00" style="left:608.50px;top:410.00px;--ls:0.000px">※</div>
<div class="t td" id="d01" style="left:635.40px;top:410.30px;--ls:0.650px">66<span class="c">,</span>429</div>
<div class="t km" id="k01" style="left:684.65px;top:410.00px;--ls:0.000px">※</div>
<div class="t td" id="d02" style="left:712.65px;top:410.30px;--ls:0.700px">74<span class="c">,</span>040</div>
<div class="t km" id="k02" style="left:763.00px;top:410.00px;--ls:0.000px">※</div>
<div class="t td" id="d03" style="left:791.25px;top:410.30px;--ls:0.700px">47<span class="c">,</span>882</div>
<div class="t km" id="k03" style="left:839.00px;top:410.00px;--ls:0.000px">※</div>
<div class="t td" id="d04" style="left:874.50px;top:410.30px;--ls:0.500px">64<span class="c">,</span>643</div>
<div class="t km" id="k04" style="left:922.15px;top:410.00px;--ls:0.000px">※</div>
<div class="t td" id="d10" style="left:553.50px;top:437.00px;--ls:0.417px">183<span class="c">,</span>543</div>
<div class="t td" id="d11" style="left:628.50px;top:437.00px;--ls:0.167px">180<span class="c">,</span>537</div>
<div class="t td" id="d12" style="left:707.40px;top:437.00px;--ls:0.150px">169<span class="c">,</span>459</div>
<div class="t td" id="d13" style="left:786.00px;top:437.00px;--ls:0.000px">187<span class="c">,</span>954</div>
<div class="t td" id="d14" style="left:866.50px;top:437.00px;--ls:0.292px">180<span class="c">,</span>000</div>
<div class="t td" id="d20" style="left:554.00px;top:463.30px;--ls:0.375px">276<span class="c">,</span>496</div>
<div class="t td" id="d21" style="left:629.00px;top:463.30px;--ls:0.183px">249<span class="c">,</span>966</div>
<div class="t td" id="d22" style="left:706.00px;top:463.30px;--ls:0.542px">243<span class="c">,</span>499</div>
<div class="t td" id="d23" style="left:783.50px;top:463.30px;--ls:0.267px">235<span class="c">,</span>836</div>
<div class="t td" id="d24" style="left:866.00px;top:463.30px;--ls:0.542px">245<span class="c">,</span>000</div>
<div class="t td" id="d30" style="left:551.00px;top:488.80px;--ls:0.500px">199<span class="c">,</span>985</div>
<div class="t td" id="d31" style="left:628.00px;top:488.80px;--ls:0.433px">167<span class="c">,</span>482</div>
<div class="t td" id="d32" style="left:706.00px;top:488.80px;--ls:0.500px">176<span class="c">,</span>473</div>
<div class="t td" id="d33" style="left:783.00px;top:488.80px;--ls:0.208px">160<span class="c">,</span>919</div>
<div class="t dash" id="d34" style="left:888.00px;top:489.40px;--ls:0.000px">－</div>
<div class="t td" id="d40" style="left:559.00px;top:516.30px;--ls:0.800px">66<span class="c">,</span>429</div>
<div class="t km" id="k40" style="left:608.50px;top:516.00px;--ls:0.000px">※</div>
<div class="t td" id="d41" style="left:632.65px;top:516.30px;--ls:1.030px">74<span class="c">,</span>040</div>
<div class="t km" id="k41" style="left:684.65px;top:516.00px;--ls:0.000px">※</div>
<div class="t td" id="d42" style="left:715.15px;top:516.30px;--ls:0.300px">55<span class="c">,</span>761</div>
<div class="t km" id="k42" style="left:763.00px;top:516.00px;--ls:0.000px">※</div>
<div class="t td" id="d43" style="left:791.50px;top:516.30px;--ls:0.470px">64<span class="c">,</span>643</div>
<div class="t km" id="k43" style="left:839.00px;top:516.00px;--ls:0.000px">※</div>
<div class="t dash" id="d44" style="left:888.00px;top:515.90px;--ls:0.000px">－</div>
<div class="t mk" id="mk" style="left:922.30px;top:441.30px;--ls:0.200px">見込</div>
<div class="t yk" id="yk" style="left:856.75px;top:462.80px;--ls:0.000px">約</div>
<div class="t nt" id="n1" style="left:459.90px;top:539.80px;--ls:0.664px">※ 統計によって数字が異なる場合があります。</div>
<div class="t nt" id="n2a" style="left:461.00px;top:554.00px;--ls:0.000px">＊<span class="s2">1</span>:</div>
<div class="t nt" id="n2" style="left:483.15px;top:554.00px;--ls:0.386px"><span class="n">8</span>月<span class="n">1</span>日～ 翌<span class="n">7</span>月<span class="n">31</span>日</div>
<div class="t nt" id="n3a" style="left:461.00px;top:565.80px;--ls:0.000px">＊<span class="s2">2</span>:</div>
<div class="t nt" id="n3" style="left:482.65px;top:565.80px;--ls:0.500px">出荷量＝総供給量-年度末在庫</div>
<div class="t sr" id="sr" style="left:746.75px;top:540.00px;--ls:1.044px">出典:カリフォルニアレーズン協会より</div>
</body>
</html>
